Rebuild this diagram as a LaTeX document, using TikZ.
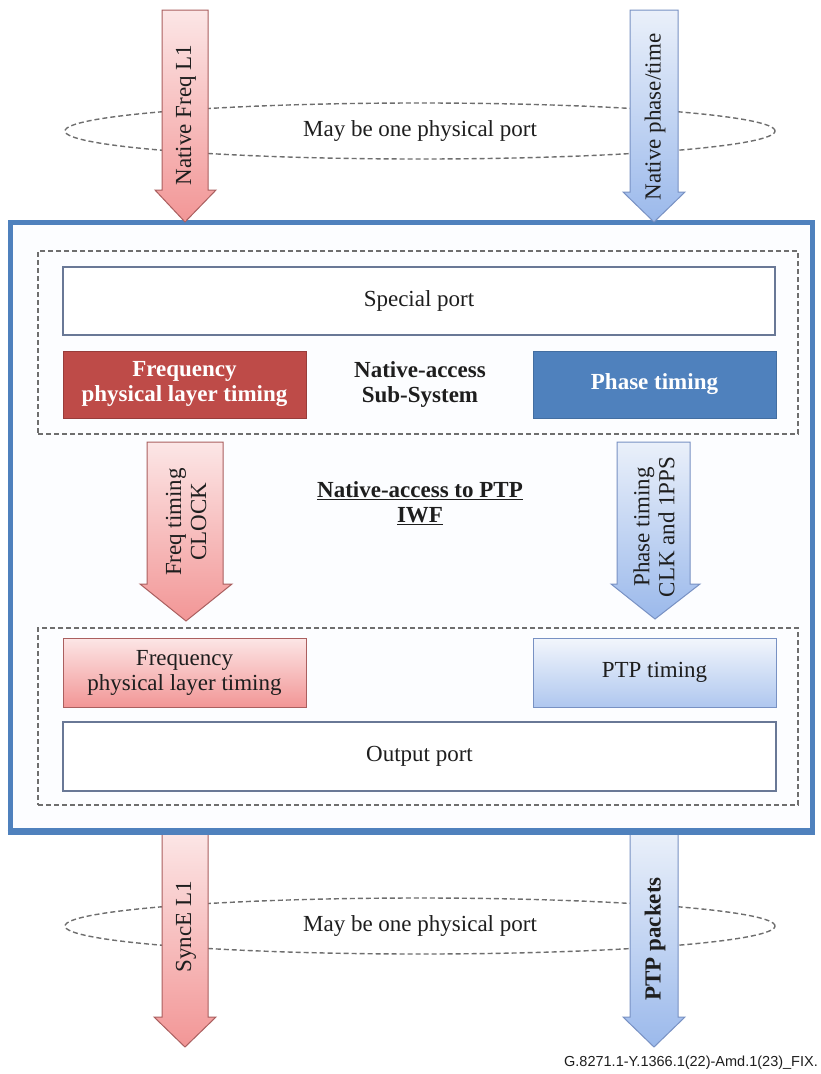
\documentclass[tikz,border=0pt]{standalone}
\usepackage{fontspec}
\setmainfont{Liberation Serif}
\newfontfamily\capfont{Liberation Sans}
\usetikzlibrary{shapes.geometric}
\definecolor{mainblue}{RGB}{79,129,189}
\definecolor{boxred}{RGB}{190,75,72}
\definecolor{boxblue}{RGB}{79,129,189}
\definecolor{redtop}{RGB}{252,230,230}
\definecolor{redbot}{RGB}{242,150,150}
\definecolor{redline}{RGB}{170,95,95}
\definecolor{bluetop}{RGB}{234,240,250}
\definecolor{bluebot}{RGB}{155,185,235}
\definecolor{blueline}{RGB}{120,145,195}
\definecolor{portline}{RGB}{105,120,150}
\definecolor{dashgray}{RGB}{110,110,110}
\definecolor{txtdark}{RGB}{30,30,30}
\begin{document}
\begin{tikzpicture}[x=1pt,y=-1pt,
  ptext/.style={font=\fontsize{23}{25}\selectfont, text=txtdark},
  btext/.style={font=\fontsize{23}{25}\selectfont\bfseries, text=txtdark},
  dashbox/.style={draw=dashgray, line width=1.4pt, dash pattern=on 5pt off 3pt, inner sep=0pt, outer sep=0pt},
  portbox/.style={draw=portline, line width=1.5pt, fill=white, inner sep=0pt, outer sep=0pt, minimum height=68pt},
  solidred/.style={fill=boxred, draw=boxred!80!black, line width=0.8pt, inner sep=0pt, minimum width=243pt, minimum height=67pt, align=center, font=\fontsize{23}{25}\selectfont\bfseries, text=white},
  solidblue/.style={fill=boxblue, draw=boxblue!85!black, line width=0.8pt, inner sep=0pt, minimum width=243pt, minimum height=67pt, align=center, font=\fontsize{23}{25}\selectfont\bfseries, text=white},
  lightred/.style={top color=redtop, bottom color=redbot, draw=redline, line width=1pt, inner sep=0pt, minimum width=243pt, minimum height=69pt, align=center, font=\fontsize{23}{25}\selectfont, text=txtdark},
  lightblue/.style={top color=bluetop!60!white, bottom color=bluebot!80!white, draw=blueline, line width=1pt, inner sep=0pt, minimum width=243pt, minimum height=69pt, align=center, font=\fontsize{23}{25}\selectfont, text=txtdark},
  redarrow/.style={top color=redtop, bottom color=redbot, draw=redline, line width=1pt},
  bluearrow/.style={top color=bluetop, bottom color=bluebot, draw=blueline, line width=1pt},
  ovalport/.style={ellipse, draw=dashgray, line width=1.4pt, dash pattern=on 5pt off 3pt, minimum width=710pt, minimum height=56pt, inner sep=0pt},
  arrowlabel/.style={rotate=90, align=center, font=\fontsize{23}{25}\selectfont, text=txtdark, inner sep=0pt}
]
\useasboundingbox (0,0) rectangle (821,1074);
\fill[white] (0,0) rectangle (821,1074);

% ellipses
\node[ovalport, ptext] (ovaltop) at (420,131) {May be one physical port};
\node[ovalport, ptext] (ovalbot) at (420,926) {May be one physical port};

% main box
\node[draw=mainblue, line width=5pt, fill={rgb,255:red,252;green,253;blue,255}, minimum width=802pt, minimum height=608pt, inner sep=0pt] (main) at (411,526) {};

% top arrows
\path[redarrow] (162,10) -- (208,10) -- (208,190) -- (216,190) -- (185,222) -- (155,190) -- (162,190) -- cycle;
\path[bluearrow] (630,10) -- (678,10) -- (678,192) -- (685,192) -- (654,222) -- (623,192) -- (630,192) -- cycle;
\node[arrowlabel] (lblNF) at (186,115) {Native Freq L1};
\node[arrowlabel] (lblNP) at (655,117) {Native phase/time};

% upper dashed subsystem
\node[dashbox, minimum width=760pt, minimum height=183pt] (subtop) at (418,342.5) {};
\node[portbox, minimum width=712pt, ptext] (special) at (419,301) {Special port};
\node[solidred] (freqA) at (184.5,384.5) {Frequency\\physical layer timing};
\node[solidblue] (phaseA) at (654.5,384.5) {Phase timing};
\node[btext, align=center] (nasub) at (420,384) {Native-access\\Sub-System};

% middle arrows
\path[redarrow] (147,442) -- (223,442) -- (223,584) -- (232,584) -- (186,621) -- (140,584) -- (147,584) -- cycle;
\path[bluearrow] (617,442) -- (690,442) -- (690,584) -- (700,584) -- (655,619) -- (611,584) -- (617,584) -- cycle;
\node[arrowlabel] (lblFT) at (186,522) {Freq timing\\CLOCK};
\node[arrowlabel] (lblPT) at (654,527) {Phase timing\\CLK and 1PPS};
\node[btext, align=center] (iwf) at (420,503) {\underline{Native-access to PTP}\\\underline{IWF}};

% lower dashed subsystem
\node[dashbox, minimum width=760pt, minimum height=177pt] (subbot) at (418,716.5) {};
\node[lightred] (freqB) at (184.5,672.5) {Frequency\\physical layer timing};
\node[lightblue] (ptpB) at (654.5,672.5) {PTP timing};
\node[portbox, minimum width=713pt, minimum height=69pt, ptext] (output) at (419.5,756.5) {Output port};

% bottom arrows
\path[redarrow] (162,832) -- (208,832) -- (208,1017) -- (216,1017) -- (185,1047) -- (154,1017) -- (162,1017) -- cycle;
\path[bluearrow] (630,832) -- (678,832) -- (678,1017) -- (685,1017) -- (654,1047) -- (623,1017) -- (630,1017) -- cycle;
\draw[mainblue, line width=5pt] (main.south west) -- (main.south east);
\node[arrowlabel] (lblSE) at (186,927) {SyncE L1};
\node[arrowlabel, font=\fontsize{23}{25}\selectfont\bfseries] (lblPP) at (655,939) {PTP packets};

% caption
\node[anchor=east, inner sep=0pt, font=\capfont\fontsize{14.5}{16}\selectfont, text=txtdark] (cap) at (818,1063) {G.8271.1-Y.1366.1(22)-Amd.1(23)\_FIX.};
\end{tikzpicture}
\end{document}
